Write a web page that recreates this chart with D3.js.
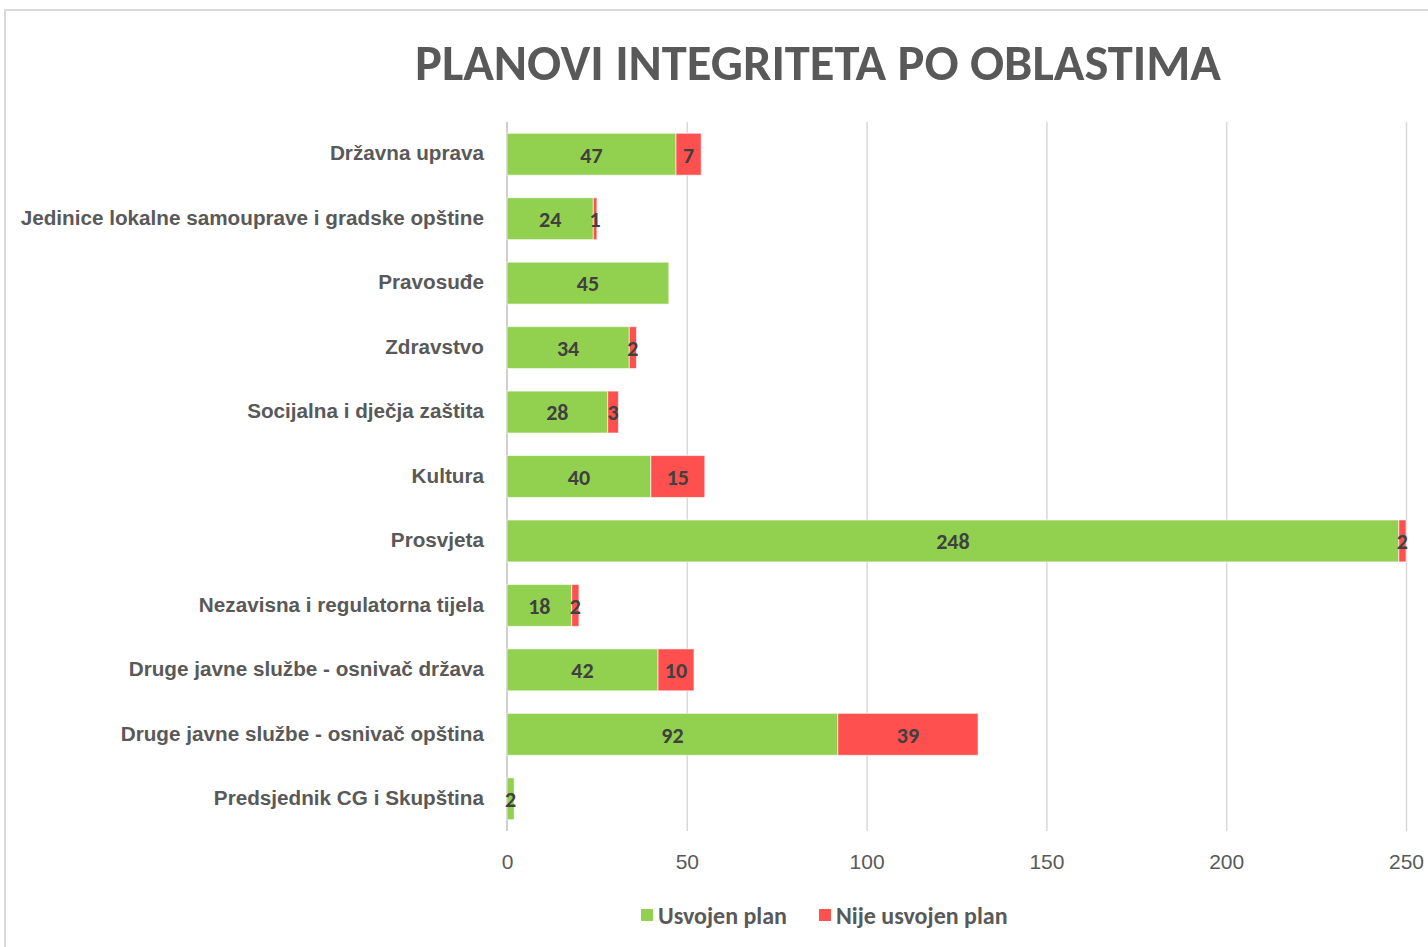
<!DOCTYPE html>
<html>
<head>
<meta charset="utf-8">
<title>Planovi integriteta po oblastima</title>
<style>
  body { margin: 0; background: #fff; }
  svg { display: block; font-family: Carlito, Calibri, Lato, "Open Sans", sans-serif; }
  .grid line { stroke: #d9d9d9; stroke-width: 1.5px; }
  .grid path { display: none; }
  .axis--x path, .axis--x line { display: none; }
  .axis--x text { fill: #595959; font-size: 21px; }
  .axis--y path, .axis--y line { display: none; }
  .axis--y text { fill: #595959; font-size: 20.7px; font-weight: bold; }
  .lbl { fill: #404040; font-size: 22px; font-weight: bold; }
  .legend text { fill: #595959; font-size: 24px; font-weight: bold; }
</style>
</head>
<body>
<svg width="1428" height="947"></svg>
<script src="https://cdn.jsdelivr.net/npm/d3@7"></script>
<script>
// kategorije i vrijednosti
var categories = ["Državna uprava", "Jedinice lokalne samouprave i gradske opštine", "Pravosuđe",
    "Zdravstvo", "Socijalna i dječja zaštita", "Kultura", "Prosvjeta",
    "Nezavisna i regulatorna tijela", "Druge javne službe - osnivač država",
    "Druge javne službe - osnivač opština", "Predsjednik CG i Skupština"];
var usvojen = [47, 24, 45, 34, 28, 40, 248, 18, 42, 92, 2];
var nijeUsvojen = [7, 1, 0, 2, 3, 15, 2, 2, 10, 39, 0];
var seriesNames = ["Usvojen plan", "Nije usvojen plan"];
var colors = ["#92d050", "#ff5050"];
var xTicks = [0, 50, 100, 150, 200, 250];

var svg = d3.select("svg");
var margin = {top: 122, left: 507, right: 22, bottom: 116};

// okvir
svg.append("rect").attr("x", 5).attr("y", 10).attr("width", 1500).attr("height", 1000)
    .attr("fill", "none").attr("stroke", "#d9d9d9").attr("stroke-width", 2);

svg.append("text").attr("x", 818).attr("y", 80).attr("text-anchor", "middle")
    .style("font-size", "50.5px").style("font-weight", "bold").style("fill", "#595959")
    .text("PLANOVI INTEGRITETA PO OBLASTIMA");

var x = d3.scaleLinear().domain([0, 250]).range([0, 899]);
var y = d3.scaleBand().domain(categories).range([0, 709]).paddingInner(0.35).paddingOuter(0.175);

var g = svg.append("g").attr("transform", "translate(" + margin.left + "," + margin.top + ")");

g.append("g").attr("class", "grid")
    .call(d3.axisBottom(x).tickValues(xTicks.slice(1)).tickSize(709).tickFormat(""));

g.append("line").attr("x1", 0).attr("x2", 0).attr("y1", 0).attr("y2", 709)
    .attr("stroke", "#bfbfbf").attr("stroke-width", 1.5);

g.append("g").attr("class", "axis--x").attr("transform", "translate(0,709)")
    .call(d3.axisBottom(x).tickValues(xTicks).tickSize(0).tickPadding(23));

g.append("g").attr("class", "axis--y")
    .call(d3.axisLeft(y).tickSize(0).tickPadding(23))
    .selectAll("text").attr("dy", "0.3em");

var rows = categories.map(function(c, i) { return {cat: c, a: usvojen[i], b: nijeUsvojen[i]}; });
var stack = d3.stack().keys(["a", "b"])(rows);

var layers = g.selectAll(".layer").data(stack).enter().append("g")
    .attr("fill", function(d, i) { return colors[i]; });

layers.selectAll("rect").data(function(d) { return d; }).enter().append("rect")
    .filter(function(d) { return d[1] > d[0]; })
    .attr("x", function(d) { return x(d[0]); })
    .attr("y", function(d) { return y(d.data.cat); })
    .attr("width", function(d) { return x(d[1]) - x(d[0]); })
    .attr("height", y.bandwidth())
    .attr("stroke", "#fff").attr("stroke-width", 1).attr("stroke-opacity", 0.6);

layers.selectAll("text").data(function(d) { return d; }).enter().append("text")
    .filter(function(d) { return d[1] > d[0]; })
    .attr("class", "lbl")
    .attr("x", function(d) { return x((d[0] + d[1]) / 2); })
    .attr("y", function(d) { return y(d.data.cat) + y.bandwidth() / 2; })
    .attr("dy", "0.38em").attr("text-anchor", "middle")
    .text(function(d) { return d[1] - d[0]; });

// legenda
var legend = svg.append("g").attr("class", "legend");
var lx = [641, 819];
seriesNames.forEach(function(n, i) {
    legend.append("rect").attr("x", lx[i]).attr("y", 909).attr("width", 12).attr("height", 12)
        .attr("fill", colors[i]);
    legend.append("text").attr("x", lx[i] + 17).attr("y", 915).attr("dy", "0.36em").text(n);
});
</script>
</body>
</html>
